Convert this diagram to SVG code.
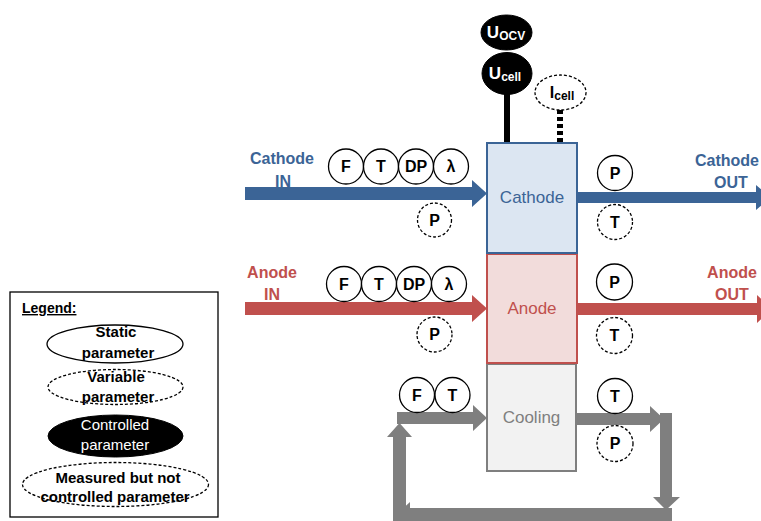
<svg xmlns="http://www.w3.org/2000/svg" width="761" height="521" viewBox="0 0 761 521">
  <style>
    text { font-family: "Liberation Sans", Arial, sans-serif; }
    .flow-lbl { font-weight: bold; font-size: 16px; text-anchor: middle; }
    .cat { fill: #3b6496; }
    .ano { fill: #c0504d; }
    .coo { fill: #7f7f7f; }
    .static { fill: #fff; stroke: #000; stroke-width: 1.3; }
    .variable { fill: #fff; stroke: #000; stroke-width: 1.3; stroke-dasharray: 3 2; }
    .controlled { fill: #000; stroke: #000; stroke-width: 1; }
    .nt { font-weight: bold; font-size: 16px; text-anchor: middle; fill: #000; }
    .nw { font-weight: bold; font-size: 17px; text-anchor: middle; fill: #fff; }
    .box-lbl { font-size: 17px; text-anchor: middle; }
    .lg { font-weight: bold; font-size: 15px; text-anchor: middle; fill: #000; }
  </style>

  <!-- flow arrows and signal leads -->
  <g id="connectors">
    <polygon class="cat" points="245,187 472,187 472,180 487,193.5 472,207 472,200 245,200"/>
    <polygon class="cat" points="577,192 756,192 756,185 771,197.5 756,210 756,203 577,203"/>
    <polygon class="ano" points="245,302 472,302 472,295 487,308.5 472,322 472,315 245,315"/>
    <polygon class="ano" points="577,303 757,303 757,295 772,309 757,323 757,315 577,315"/>
    <!-- coolant loop -->
    <polygon class="coo" points="672,508 410,508 410,502 397,514 410,526 410,521 672,521"/>
    <polygon class="coo" points="393,521 393,437 387,437 399.5,423 412,437 406,437 406,521"/>
    <polygon class="coo" points="397,412 473,412 473,405 487,418 473,431 473,424 397,424"/>
    <polygon class="coo" points="577,413 650,413 650,406 664,419 650,432 650,425 577,425"/>
    <polygon class="coo" points="660,413 672,413 672,497 680,497 666,510 653,497 660,497"/>
    <!-- voltage and current leads -->
    <line x1="507" y1="94" x2="507" y2="143" stroke="#000" stroke-width="6"/>
    <line x1="560" y1="110" x2="560" y2="143" stroke="#000" stroke-width="6" stroke-dasharray="4 3"/>
  </g>

  <!-- cell stack -->
  <g id="cooling">
    <rect x="487" y="364" width="89" height="107" fill="#f2f2f2" stroke="#7f7f7f" stroke-width="2"/>
    <text class="box-lbl coo" x="531.5" y="423">Cooling</text>
  </g>
  <g id="anode">
    <rect x="487" y="254" width="90" height="109" fill="#f2dcdb" stroke="#c0504d" stroke-width="2"/>
    <text class="box-lbl ano" x="532" y="314">Anode</text>
  </g>
  <g id="cathode">
    <rect x="487" y="143" width="90" height="110" fill="#dce6f2" stroke="#3b6496" stroke-width="2"/>
    <text class="box-lbl cat" x="532" y="203">Cathode</text>
  </g>

  <!-- stream labels -->
  <g id="cathode-in-label"><text class="flow-lbl cat" x="282" y="164">Cathode</text><text class="flow-lbl cat" x="283" y="187">IN</text></g>
  <g id="cathode-out-label"><text class="flow-lbl cat" x="727" y="166">Cathode</text><text class="flow-lbl cat" x="731" y="188">OUT</text></g>
  <g id="anode-in-label"><text class="flow-lbl ano" x="272" y="278">Anode</text><text class="flow-lbl ano" x="272" y="300">IN</text></g>
  <g id="anode-out-label"><text class="flow-lbl ano" x="732" y="278">Anode</text><text class="flow-lbl ano" x="732" y="300">OUT</text></g>

  <!-- electrical parameters -->
  <g id="u-ocv">
    <ellipse class="controlled" cx="506.5" cy="32.5" rx="25.5" ry="17.5"/>
    <text class="nw" x="506" y="38">U<tspan font-size="12" dy="2">OCV</tspan></text>
  </g>
  <g id="u-cell">
    <ellipse class="controlled" cx="507" cy="73.5" rx="25" ry="21"/>
    <text class="nw" x="505" y="79">U<tspan font-size="12" dy="2">cell</tspan></text>
  </g>
  <g id="i-cell">
    <ellipse class="variable" cx="560.5" cy="92.5" rx="25.5" ry="17.5"/>
    <text class="nt" x="562" y="98">I<tspan font-size="12" dy="2">cell</tspan></text>
  </g>

  <!-- cathode inlet parameters -->
  <g id="cat-in-f"><circle class="static" cx="346" cy="166.5" r="17.5"/><text class="nt" x="346" y="172">F</text></g>
  <g id="cat-in-t"><circle class="static" cx="381" cy="166.5" r="17.5"/><text class="nt" x="381" y="172">T</text></g>
  <g id="cat-in-dp"><circle class="static" cx="416" cy="166.5" r="17.5"/><text class="nt" x="416" y="172">DP</text></g>
  <g id="cat-in-lambda"><circle class="static" cx="451" cy="166.5" r="17.5"/><text class="nt" x="451" y="172">λ</text></g>
  <g id="cat-in-p"><circle class="variable" cx="434.5" cy="220" r="17"/><text class="nt" x="434.5" y="226">P</text></g>
  <!-- cathode outlet parameters -->
  <g id="cat-out-p"><circle class="static" cx="615" cy="173" r="17.5"/><text class="nt" x="615" y="178.5">P</text></g>
  <g id="cat-out-t"><circle class="variable" cx="615" cy="222" r="17.5"/><text class="nt" x="615" y="227.5">T</text></g>

  <!-- anode inlet parameters -->
  <g id="ano-in-f"><circle class="static" cx="344" cy="284" r="17.5"/><text class="nt" x="344" y="289.5">F</text></g>
  <g id="ano-in-t"><circle class="static" cx="379" cy="284" r="17.5"/><text class="nt" x="379" y="289.5">T</text></g>
  <g id="ano-in-dp"><circle class="static" cx="414" cy="284" r="17.5"/><text class="nt" x="414" y="289.5">DP</text></g>
  <g id="ano-in-lambda"><circle class="static" cx="449" cy="284" r="17.5"/><text class="nt" x="449" y="289.5">λ</text></g>
  <g id="ano-in-p"><circle class="variable" cx="434.5" cy="334.5" r="17.5"/><text class="nt" x="434.5" y="340">P</text></g>
  <!-- anode outlet parameters -->
  <g id="ano-out-p"><circle class="static" cx="614.5" cy="282" r="18"/><text class="nt" x="614.5" y="287.5">P</text></g>
  <g id="ano-out-t"><circle class="variable" cx="614.5" cy="335.5" r="18"/><text class="nt" x="614.5" y="341">T</text></g>

  <!-- coolant parameters -->
  <g id="coo-in-f"><circle class="static" cx="417" cy="395" r="17.5"/><text class="nt" x="417" y="400.5">F</text></g>
  <g id="coo-in-t"><circle class="static" cx="452.5" cy="395" r="17.5"/><text class="nt" x="452.5" y="400.5">T</text></g>
  <g id="coo-out-t"><circle class="static" cx="615" cy="396" r="17.5"/><text class="nt" x="615" y="401.5">T</text></g>
  <g id="coo-out-p"><circle class="variable" cx="615" cy="443.5" r="18"/><text class="nt" x="615" y="449">P</text></g>

  <!-- key -->
  <g id="legend">
    <rect x="10" y="292" width="208" height="225" fill="#fff" stroke="#000" stroke-width="1.3"/>
    <text x="22" y="313" font-weight="bold" font-size="14" text-decoration="underline">Legend:</text>
    <ellipse class="static" cx="115" cy="344" rx="68" ry="19"/>
    <text class="lg" x="116" y="337">Static</text>
    <text class="lg" x="118" y="358">parameter</text>
    <ellipse class="variable" cx="115.5" cy="387" rx="67.5" ry="17.5"/>
    <text class="lg" x="116" y="382">Variable</text>
    <text class="lg" x="118" y="402">parameter</text>
    <ellipse class="controlled" cx="115.5" cy="436" rx="67.5" ry="21"/>
    <text x="115" y="430" font-size="15" text-anchor="middle" fill="#fff">Controlled</text>
    <text x="115" y="450" font-size="15" text-anchor="middle" fill="#fff">parameter</text>
    <ellipse class="variable" cx="115.5" cy="484.5" rx="93" ry="22"/>
    <text class="lg" x="118" y="483">Measured but not</text>
    <text class="lg" x="115" y="502">controlled parameter</text>
  </g>
</svg>
